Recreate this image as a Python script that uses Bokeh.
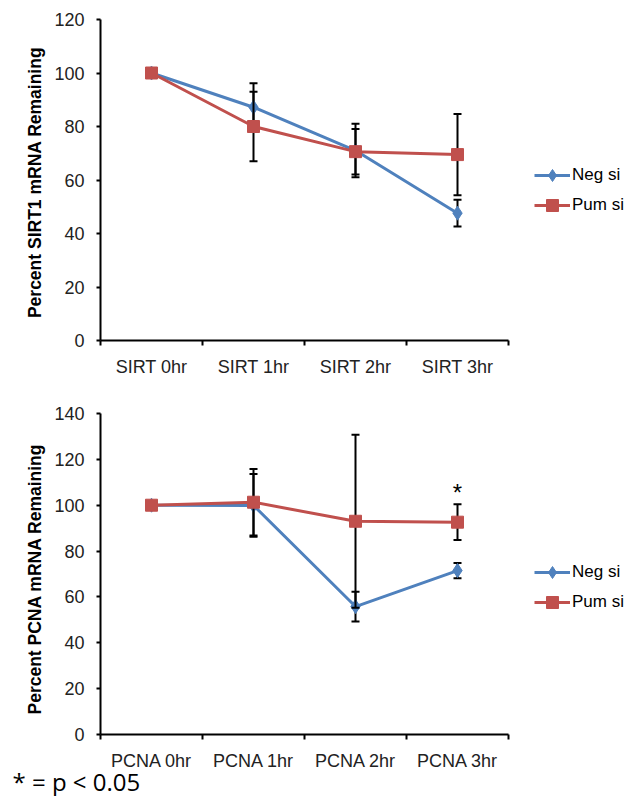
from bokeh.plotting import figure
from bokeh.models import (Range1d, FixedTicker, Legend, LegendItem, Title,
                          ColumnDataSource)
from bokeh.layouts import column
from bokeh.embed import file_html
from bokeh.resources import INLINE
from bokeh.core.properties import value

# ---------------- data ----------------
sirt_labels = ["SIRT 0hr", "SIRT 1hr", "SIRT 2hr", "SIRT 3hr"]
sirt_neg = [100.0, 87.2, 71.0, 47.6]
sirt_neg_err = [0.0, 9.0, 10.0, 5.0]
sirt_pum = [100.0, 80.0, 70.6, 69.5]
sirt_pum_err = [0.0, 13.0, 8.5, 15.2]
sirt_yticks = [0, 20, 40, 60, 80, 100, 120]

pcna_labels = ["PCNA 0hr", "PCNA 1hr", "PCNA 2hr", "PCNA 3hr"]
pcna_neg = [100.0, 99.9, 55.8, 71.5]
pcna_neg_err = [0.0, 13.7, 6.5, 3.3]
pcna_pum = [100.0, 101.3, 93.0, 92.6]
pcna_pum_err = [0.0, 14.5, 37.7, 7.8]
pcna_yticks = [0, 20, 40, 60, 80, 100, 120, 140]
pcna_significant = ["PCNA 3hr"]

series_names = ["Neg si", "Pum si"]
footnote = "* = p < 0.05"

BLUE = "#4F81BD"
RED = "#C0504D"
FONT = "Liberation Sans"


def make_panel(labels, neg, neg_err, pum, pum_err, yticks, ylabel,
               border_top, border_bottom, legend_vy):
    n = len(labels)
    # each category occupies one unit; its point sits in the middle of it
    pos = {lab: i + 0.5 for i, lab in enumerate(labels)}
    xs = [pos[lab] for lab in labels]

    p = figure(x_range=Range1d(0, n),
               y_range=Range1d(yticks[0], yticks[-1]),
               frame_width=408, frame_height=321,
               min_border_left=100, min_border_right=123,
               min_border_top=border_top, min_border_bottom=border_bottom,
               toolbar_location=None, output_backend="svg")
    p.outline_line_color = None
    p.xgrid.visible = False
    p.ygrid.visible = False

    # y axis
    ya = p.yaxis[0]
    ya.ticker = FixedTicker(ticks=yticks, minor_ticks=[])
    ya.axis_label = ylabel
    ya.axis_label_text_font = FONT
    ya.axis_label_text_font_style = "bold"
    ya.axis_label_text_font_size = "17.5px"
    ya.axis_label_text_color = "black"
    ya.axis_label_standoff = 6
    ya.major_label_text_font = FONT
    ya.major_label_text_font_size = "18px"
    ya.major_label_text_color = "#222222"
    ya.major_label_standoff = 12
    ya.major_tick_in = 0
    ya.major_tick_out = 4
    ya.major_tick_line_width = 2
    ya.axis_line_width = 2
    ya.axis_line_color = "black"
    ya.major_tick_line_color = "black"

    # x axis: labels at category centres, tick marks at category boundaries
    xa = p.xaxis[0]
    xa.ticker = FixedTicker(ticks=xs, minor_ticks=list(range(n + 1)))
    xa.major_label_overrides = {pos[lab]: lab for lab in labels}
    xa.major_tick_in = 0
    xa.major_tick_out = 0
    xa.minor_tick_in = 0
    xa.minor_tick_out = 5
    xa.minor_tick_line_width = 2
    xa.minor_tick_line_color = "black"
    xa.axis_line_width = 2
    xa.axis_line_color = "black"
    xa.major_label_text_font = FONT
    xa.major_label_text_font_size = "18px"
    xa.major_label_text_color = "#222222"
    xa.major_label_standoff = 11

    renderers = []
    for vals, errs, color, marker, msize in [
            (neg, neg_err, BLUE, "diamond", 14),
            (pum, pum_err, RED, "square", 12)]:
        ex = [pos[lab] for lab, e in zip(labels, errs) if e > 0]
        up = [v + e for v, e in zip(vals, errs) if e > 0]
        lo = [v - e for v, e in zip(vals, errs) if e > 0]
        p.segment(x0=ex, y0=lo, x1=ex, y1=up, line_color="black", line_width=2)
        p.scatter(x=ex + ex, y=up + lo, marker="dash", size=8,
                  line_color="black", line_width=2)
        src = ColumnDataSource(dict(x=xs, y=vals, cat=labels))
        ln = p.line("x", "y", source=src, line_color=color, line_width=3)
        sc = p.scatter("x", "y", source=src, marker=marker, size=msize,
                       fill_color=color, line_color=color)
        renderers.append((ln, sc))

    items = [LegendItem(label=name, renderers=list(r))
             for name, r in zip(series_names, renderers)]
    legend = Legend(items=items, location=(22, legend_vy),
                    glyph_width=36, glyph_height=30, label_height=30,
                    spacing=0, padding=4, margin=0, label_standoff=2,
                    border_line_alpha=0, background_fill_alpha=0,
                    label_text_font=FONT, label_text_font_size="17px",
                    label_text_color="black")
    p.add_layout(legend, "right")
    return p, pos


p1, _ = make_panel(sirt_labels, sirt_neg, sirt_neg_err, sirt_pum, sirt_pum_err,
                   sirt_yticks, "Percent SIRT1 mRNA  Remaining", 19, 50, 116)
p2, pcna_pos = make_panel(pcna_labels, pcna_neg, pcna_neg_err, pcna_pum,
                          pcna_pum_err, pcna_yticks,
                          "Percent PCNA  mRNA  Remaining", 23, 62, 113)

# significance asterisk
sig_x = [pcna_pos[lab] for lab in pcna_labels if lab in pcna_significant]
sig_y = [v + e + 5 for lab, v, e in zip(pcna_labels, pcna_pum, pcna_pum_err)
         if lab in pcna_significant]
p2.text(x=sig_x, y=sig_y, text=["*"] * len(sig_x), text_align="center",
        text_baseline="alphabetic", text_font=value(FONT),
        text_font_size="24px", text_color="black")

# footnote below the lower chart
p2.add_layout(Title(text=footnote, align="left", offset=-88,
                    vertical_align="top",
                    text_font="Open Sans", text_font_size="24px",
                    text_font_style="normal", text_color="black",
                    standoff=-18), "below")

layout = column(p1, p2, spacing=0)
open("out.html", "w").write(file_html(layout, INLINE))
